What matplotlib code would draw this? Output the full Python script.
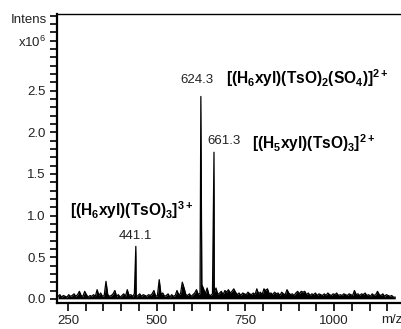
import matplotlib
matplotlib.use("Agg")
import matplotlib.pyplot as plt
import numpy as np

plt.rcParams['font.family'] = ['Liberation Sans', 'DejaVu Sans']
plt.rcParams['mathtext.fontset'] = 'custom'
plt.rcParams['mathtext.rm'] = 'Liberation Sans'
plt.rcParams['mathtext.bf'] = 'Liberation Sans:bold'

# baseline noise, m/z 222 .. 1172 every 5 units (intensity x10^6)
noise_start = 222
noise_step = 5
noise = [
    0.03, 0.05, 0.02, 0.04, 0.03, 0.02, 0.05, 0.03, 0.04, 0.06,
    0.03, 0.05, 0.09, 0.04, 0.03, 0.09, 0.05, 0.02, 0.04, 0.03,
    0.05, 0.03, 0.11, 0.04, 0.07, 0.03, 0.04, 0.21, 0.05, 0.03,
    0.04, 0.06, 0.10, 0.03, 0.05, 0.02, 0.04, 0.06, 0.03, 0.11,
    0.04, 0.05, 0.03, 0.06, 0.02, 0.04, 0.06, 0.03, 0.05, 0.04,
    0.03, 0.05, 0.04, 0.06, 0.10, 0.03, 0.04, 0.23, 0.05, 0.07,
    0.03, 0.04, 0.06, 0.02, 0.05, 0.03, 0.04, 0.10, 0.05, 0.06,
    0.20, 0.13, 0.05, 0.04, 0.06, 0.03, 0.05, 0.07, 0.11, 0.05,
    0.07, 0.17, 0.12, 0.06, 0.13, 0.05, 0.04, 0.06, 0.08, 0.13,
    0.05, 0.07, 0.09, 0.05, 0.10, 0.08, 0.11, 0.07, 0.09, 0.12,
    0.08, 0.05, 0.07, 0.04, 0.07, 0.06, 0.05, 0.08, 0.06, 0.05,
    0.07, 0.05, 0.12, 0.06, 0.08, 0.05, 0.12, 0.10, 0.12, 0.06,
    0.07, 0.05, 0.08, 0.06, 0.07, 0.04, 0.08, 0.06, 0.05, 0.11,
    0.07, 0.05, 0.06, 0.04, 0.07, 0.09, 0.06, 0.09, 0.08, 0.09,
    0.05, 0.07, 0.04, 0.06, 0.05, 0.07, 0.04, 0.06, 0.05, 0.04,
    0.06, 0.04, 0.07, 0.05, 0.04, 0.06, 0.05, 0.07, 0.04, 0.05,
    0.04, 0.06, 0.05, 0.04, 0.06, 0.05, 0.04, 0.10, 0.05, 0.06,
    0.04, 0.06, 0.05, 0.07, 0.04, 0.05, 0.03, 0.06, 0.04, 0.05,
    0.09, 0.05, 0.04, 0.06, 0.03, 0.05, 0.04, 0.03, 0.04, 0.02, 0.02,
]

# labelled peaks
peak_mz = [441.1, 624.3, 661.3]
peak_int = [0.63, 2.43, 1.76]
peak_text = ['441.1', '624.3', '661.3']

mz = list(noise_start + noise_step * np.arange(len(noise)))
inten = list(noise)
for m, h in zip(peak_mz, peak_int):
    mz.append(m)
    inten.append(h)
order = np.argsort(mz)
mz = np.array(mz)[order]
inten = np.array(inten)[order]

fig = plt.figure(figsize=(4.02, 3.29), dpi=100)
ax = fig.add_axes([57 / 402, 26 / 329, 345 / 402, 289 / 329])

ax.fill_between(mz, 0, inten, color='black', lw=0)
ax.plot(mz, inten, color='black', lw=0.9)

ax.set_xlim(219, 1191)
ax.set_ylim(-0.05, 3.42)

ax.set_xticks([250, 500, 750, 1000])
ax.set_xticks(np.arange(250, 1151, 50), minor=True)
ax.set_yticks([0.0, 0.5, 1.0, 1.5, 2.0, 2.5])
ax.set_yticklabels(['0.0', '0.5', '1.0', '1.5', '2.0', '2.5'])
ax.set_yticks(np.arange(0, 3.45, 0.1), minor=True)

ax.tick_params(which='both', direction='out', length=5, width=1.2, color='black',
               labelsize=9.5, labelcolor='#222222', pad=3)
ax.tick_params(axis='x', which='both', length=6)

for s in ['left', 'bottom']:
    ax.spines[s].set_linewidth(1.6)
ax.spines['top'].set_linewidth(1.0)
ax.spines['right'].set_visible(False)

# axis captions
ax.text(-0.03, 3.345, 'Intens', transform=ax.get_yaxis_transform(),
        ha='right', va='center', fontsize=9.5, color='#222222')
ax.text(-0.03, 3.085, 'x10$^6$', transform=ax.get_yaxis_transform(),
        ha='right', va='center', fontsize=9.5, color='#222222')
ax.text(1162, -0.038, 'm/z', transform=ax.get_xaxis_transform(),
        ha='center', va='top', fontsize=9.5, color='#222222')

# peak labels
label_pos = [(441, 0.755), (613.6, 2.63), (690, 1.89)]
for (x, y), t in zip(label_pos, peak_text):
    ax.text(x, y, t, ha='center', va='center', fontsize=9.5, color='#222222')

ion_labels = [
    r'$\mathbf{[(H_6xyl)(TsO)_3]^{3+}}$',
    r'$\mathbf{[(H_6xyl)(TsO)_2(SO_4)]^{2+}}$',
    r'$\mathbf{[(H_5xyl)(TsO)_3]^{2+}}$',
]
ion_pos = [(256, 0.995), (695, 2.585), (768, 1.805)]
for (x, y), t in zip(ion_pos, ion_labels):
    ax.text(x, y, t, ha='left', va='baseline', fontsize=11.2, color='black')

fig.savefig('out.png', dpi=100)
